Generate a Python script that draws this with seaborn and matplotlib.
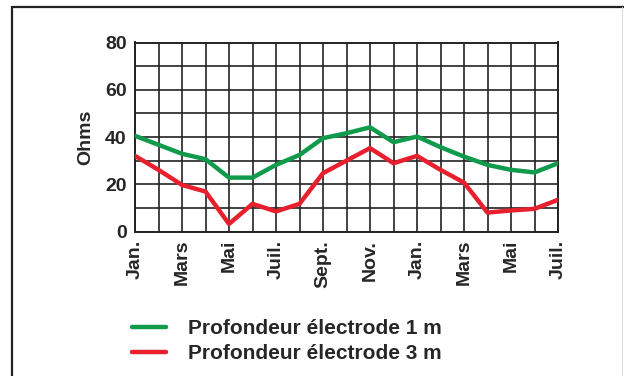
import matplotlib
matplotlib.use("Agg")
import matplotlib.pyplot as plt
from matplotlib.lines import Line2D
import seaborn as sns
import pandas as pd

# Monthly earth resistance over 19 months (Jan. to Juil. of the following year)
months = ["Jan.", "Févr.", "Mars", "Avr.", "Mai", "Juin", "Juil.", "Août", "Sept.", "Oct.",
          "Nov.", "Déc.", "Jan.", "Févr.", "Mars", "Avr.", "Mai", "Juin", "Juil."]
ohms_1m = [40.5, 36.7, 32.9, 30.6, 22.8, 22.8, 28.2, 32.4, 39.5, 41.6,
           44.1, 37.8, 40.2, 35.7, 31.7, 28.2, 26.1, 25.0, 28.9]
ohms_3m = [32.0, 26.1, 19.7, 16.9, 3.2, 11.7, 8.5, 11.7, 24.7, 30.0,
           35.3, 28.9, 32.0, 26.1, 20.7, 8.0, 8.9, 9.6, 13.4]
series_names = ["Profondeur électrode 1 m", "Profondeur électrode 3 m"]
series_colors = ["#0f9a4c", "#e8202e"]
y_ticks = [0, 20, 40, 60, 80]

sns.set_theme(style="white")
plt.rcParams["font.family"] = ["Liberation Sans", "DejaVu Sans"]
plt.rcParams["font.weight"] = "bold"

n = len(months)
df = pd.DataFrame({
    "mois": list(range(n)) * 2,
    "ohms": ohms_1m + ohms_3m,
    "serie": [series_names[0]] * n + [series_names[1]] * n,
})

fig = plt.figure(figsize=(6.24, 3.76), dpi=100)
ax = fig.add_axes([135 / 624, 1 - 231.5 / 376, 423 / 624, 189 / 376])

sns.lineplot(data=df, x="mois", y="ohms", hue="serie", palette=series_colors,
             linewidth=3.2, ax=ax, legend=False, zorder=3)

ax.set_xlim(0, n - 1)
ax.set_ylim(0, 80)
ax.set_xticks(range(n), minor=True)
ax.set_yticks(range(0, 81, 10), minor=True)
ax.set_xticks(range(0, n, 2))
ax.set_xticklabels(months[::2], rotation=90, fontsize=14, fontweight="bold")
ax.set_yticks(y_ticks)
ax.set_yticklabels([str(v) for v in y_ticks], fontsize=14, fontweight="bold")
ax.tick_params(axis="both", which="both", length=0, pad=6)
ax.grid(True, which="both", color="#222222", linewidth=1.2)
ax.set_axisbelow(True)
for s in ax.spines.values():
    s.set_visible(True)
    s.set_color("#222222")
    s.set_linewidth(1.4)
ax.set_xlabel("")
ax.set_ylabel("Ohms", fontsize=14, fontweight="bold", labelpad=8)

handles = [Line2D([], [], color=c, linewidth=3.2) for c in series_colors]
fig.legend(handles, series_names, loc="upper left", bbox_to_anchor=(132 / 624, 1 - 319 / 376),
           frameon=False, prop={"weight": "bold", "size": 15},
           borderpad=0, borderaxespad=0,
           handlelength=1.65, handletextpad=1.05, labelspacing=0.3)

# Outer frame: top and left rules, faint right edge
fig.add_artist(Line2D([11.5 / 624, 1.0], [1 - 6.5 / 376] * 2, color="#222222", linewidth=1.6,
                      transform=fig.transFigure))
fig.add_artist(Line2D([11.5 / 624] * 2, [0, 1 - 6.5 / 376], color="#222222", linewidth=1.6,
                      transform=fig.transFigure))
fig.add_artist(Line2D([622 / 624] * 2, [0, 1 - 6.5 / 376], color="#dddddd", linewidth=0.8,
                      transform=fig.transFigure))

fig.savefig("out.png", dpi=100)
